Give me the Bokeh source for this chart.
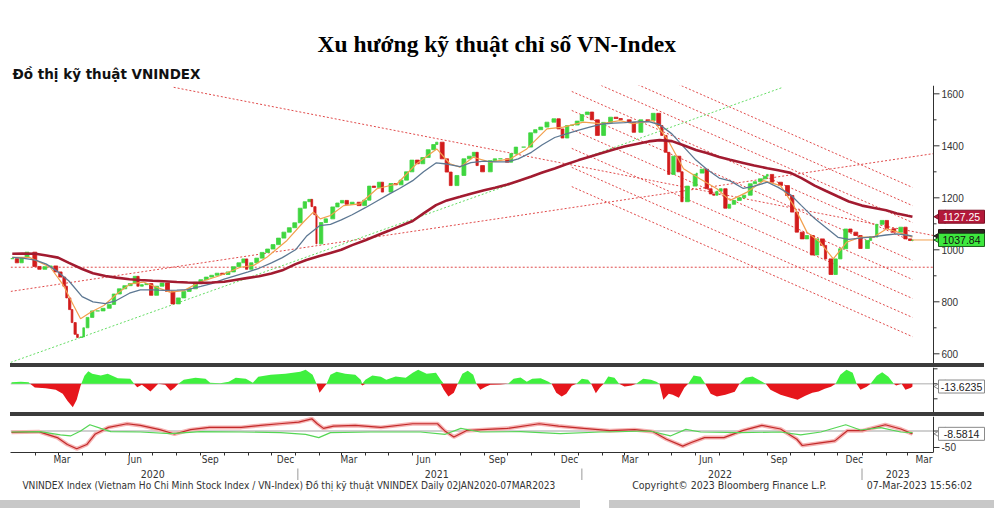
import numpy as np
import pandas as pd
from bokeh.plotting import figure
from bokeh.layouts import column, row
from bokeh.models import Range1d, FixedTicker, Title, ColumnDataSource, Div, Spacer
from bokeh.core.properties import value
from bokeh.embed import file_html
from bokeh.resources import INLINE

# ---------------- data ----------------
price_dates = [
    "2020-01-02", "2020-01-08", "2020-01-14", "2020-01-21", "2020-01-31",
    "2020-02-06", "2020-02-13", "2020-02-20", "2020-02-27",
    "2020-03-04", "2020-03-09", "2020-03-12", "2020-03-16", "2020-03-19", "2020-03-23", "2020-03-26", "2020-03-31",
    "2020-04-03", "2020-04-08", "2020-04-14", "2020-04-21", "2020-04-28",
    "2020-05-06", "2020-05-12", "2020-05-19", "2020-05-26",
    "2020-06-02", "2020-06-08", "2020-06-12", "2020-06-17", "2020-06-23", "2020-06-29",
    "2020-07-06", "2020-07-13", "2020-07-20", "2020-07-27",
    "2020-08-03", "2020-08-10", "2020-08-17", "2020-08-25",
    "2020-09-01", "2020-09-08", "2020-09-15", "2020-09-22", "2020-09-29",
    "2020-10-06", "2020-10-13", "2020-10-20", "2020-10-26", "2020-10-30",
    "2020-11-05", "2020-11-12", "2020-11-19", "2020-11-26",
    "2020-12-03", "2020-12-10", "2020-12-17", "2020-12-24", "2020-12-31",
    "2021-01-07", "2021-01-13", "2021-01-19", "2021-01-22", "2021-01-26", "2021-01-28",
    "2021-02-03", "2021-02-09", "2021-02-18", "2021-02-24",
    "2021-03-02", "2021-03-08", "2021-03-15", "2021-03-24", "2021-03-31",
    "2021-04-06", "2021-04-12", "2021-04-19", "2021-04-23",
    "2021-05-04", "2021-05-10", "2021-05-17", "2021-05-24", "2021-05-31",
    "2021-06-07", "2021-06-14", "2021-06-21", "2021-06-28",
    "2021-07-02", "2021-07-09", "2021-07-15", "2021-07-20", "2021-07-28",
    "2021-08-06", "2021-08-13", "2021-08-19", "2021-08-23", "2021-08-30",
    "2021-09-09", "2021-09-15", "2021-09-22",
    "2021-10-01", "2021-10-06", "2021-10-12", "2021-10-22", "2021-10-31",
    "2021-11-06", "2021-11-13", "2021-11-21", "2021-11-30",
    "2021-12-06", "2021-12-11", "2021-12-17", "2021-12-23", "2021-12-30",
    "2022-01-05", "2022-01-12", "2022-01-18", "2022-01-25",
    "2022-02-02", "2022-02-11", "2022-02-18", "2022-02-24",
    "2022-03-07", "2022-03-13", "2022-03-22", "2022-03-31",
    "2022-04-07", "2022-04-14", "2022-04-18", "2022-04-23", "2022-04-27",
    "2022-05-03", "2022-05-10", "2022-05-14", "2022-05-21", "2022-05-31",
    "2022-06-02", "2022-06-09", "2022-06-15", "2022-06-20", "2022-06-24", "2022-06-28",
    "2022-07-03", "2022-07-09", "2022-07-14", "2022-07-20", "2022-07-27",
    "2022-08-02", "2022-08-10", "2022-08-16", "2022-08-23", "2022-08-29",
    "2022-09-01", "2022-09-07", "2022-09-18", "2022-09-27",
    "2022-10-03", "2022-10-09", "2022-10-16", "2022-10-22", "2022-10-29",
    "2022-11-04", "2022-11-11", "2022-11-15", "2022-11-22", "2022-11-28",
    "2022-12-04", "2022-12-11", "2022-12-17", "2022-12-24", "2022-12-30",
    "2023-01-08", "2023-01-12", "2023-01-16", "2023-01-20", "2023-01-27",
    "2023-02-02", "2023-02-11", "2023-02-20", "2023-02-26",
    "2023-03-04", "2023-03-07",
]
price_close = [
    966, 950, 970, 991, 936,
    925, 935, 938, 915,
    895, 860, 815, 770, 720, 675, 663, 665,
    700, 740, 765, 765, 775,
    790, 830, 850, 862,
    870, 898, 860, 866, 870, 825,
    860, 872, 840, 792,
    815, 840, 850, 875,
    885, 895, 902, 910, 905,
    915, 935, 950, 965, 925,
    950, 968, 990, 1003,
    1020, 1045, 1068, 1085, 1104,
    1160, 1185, 1194, 1166, 1135, 1023,
    1105, 1119, 1165, 1180,
    1190, 1175, 1183, 1170, 1191,
    1245, 1240, 1260, 1222,
    1255, 1250, 1268, 1300, 1345,
    1331, 1355, 1385, 1405,
    1414, 1350, 1299, 1247, 1286,
    1350, 1360, 1375, 1324, 1300,
    1343, 1350, 1350,
    1337, 1370, 1395, 1395, 1450,
    1462, 1472, 1491, 1504,
    1465, 1430, 1478, 1480, 1495,
    1520, 1530, 1500, 1440,
    1490, 1510, 1505, 1500,
    1490, 1452, 1500, 1497,
    1525, 1478, 1440, 1375, 1290,
    1360, 1300, 1185, 1245, 1290,
    1295, 1310, 1235, 1215, 1210, 1225,
    1235, 1160, 1175, 1190, 1200,
    1210, 1254, 1262, 1273, 1283,
    1290, 1260, 1247, 1209,
    1145, 1068, 1042, 1055, 980,
    1042, 1017, 965, 905, 965,
    1004, 1080, 1068, 1055, 1005,
    1036, 1050, 1049, 1098, 1113,
    1081, 1068, 1087, 1042,
    1036, 1037.84,
]

ma_dates = [
    "2020-01-02", "2020-01-15", "2020-02-01", "2020-02-15", "2020-03-01", "2020-03-15",
    "2020-04-01", "2020-04-15", "2020-05-01", "2020-05-15", "2020-06-01", "2020-06-15",
    "2020-07-01", "2020-07-15", "2020-08-01", "2020-08-15", "2020-09-01", "2020-09-15",
    "2020-10-01", "2020-10-15", "2020-11-01", "2020-11-15", "2020-12-01", "2020-12-15",
    "2021-01-01", "2021-01-15", "2021-02-01", "2021-02-15", "2021-03-01", "2021-03-15",
    "2021-04-01", "2021-04-15", "2021-05-01", "2021-05-15", "2021-06-01", "2021-06-15",
    "2021-07-01", "2021-07-15", "2021-08-01", "2021-08-15", "2021-09-01", "2021-09-15",
    "2021-10-01", "2021-10-15", "2021-11-01", "2021-11-15", "2021-12-01", "2021-12-15",
    "2022-01-01", "2022-01-15", "2022-02-01", "2022-02-15", "2022-03-01", "2022-03-15",
    "2022-04-01", "2022-04-15", "2022-05-01", "2022-05-15", "2022-06-01", "2022-06-15",
    "2022-07-01", "2022-07-15", "2022-08-01", "2022-08-15", "2022-09-01", "2022-09-15",
    "2022-10-01", "2022-10-15", "2022-11-01", "2022-11-15", "2022-12-01", "2022-12-15",
    "2023-01-01", "2023-01-15", "2023-02-01", "2023-02-15", "2023-03-01", "2023-03-07",
]
ma200 = [
    985, 986, 985, 978, 970, 950, 926, 910, 899, 893, 887, 884,
    881, 879, 876, 874, 873, 874, 877, 884, 892, 898, 909, 921,
    945, 961, 976, 988, 1000, 1018, 1037, 1054, 1073, 1090, 1111, 1140,
    1172, 1190, 1204, 1216, 1229, 1239, 1251, 1265, 1282, 1297, 1313, 1328,
    1345, 1358, 1373, 1386, 1397, 1406, 1417, 1422, 1418, 1403, 1384, 1372,
    1357, 1346, 1334, 1324, 1314, 1306, 1296, 1276, 1247, 1227, 1205, 1186,
    1170, 1162, 1152, 1140, 1131, 1127.25,
]
ma50 = [
    971, 968, 960, 945, 915, 880, 820, 800, 793, 805, 833, 846,
    846, 844, 845, 847, 859, 870, 887, 900, 915, 929, 950, 970,
    1000, 1052, 1093, 1098, 1115, 1135, 1162, 1186, 1213, 1236, 1266, 1300,
    1334, 1330, 1320, 1335, 1341, 1338, 1338, 1350, 1375, 1404, 1432, 1445,
    1460, 1472, 1484, 1487, 1489, 1492, 1493, 1482, 1446, 1400, 1345, 1310,
    1276, 1265, 1236, 1245, 1260, 1240, 1212, 1170, 1120, 1087, 1048, 1040,
    1046, 1050, 1057, 1061, 1056, 1053,
]
ma20_dates = [
    "2020-01-02", "2020-01-24", "2020-02-20", "2020-03-08", "2020-03-21", "2020-03-30",
    "2020-04-12", "2020-04-29", "2020-05-16", "2020-06-02", "2020-06-19", "2020-07-06",
    "2020-07-23", "2020-08-10", "2020-08-31", "2020-09-26", "2020-10-22", "2020-11-08",
    "2020-11-25", "2020-12-21", "2021-01-11", "2021-01-24", "2021-02-02", "2021-02-15",
    "2021-03-04", "2021-03-25", "2021-04-16", "2021-05-12", "2021-06-06", "2021-07-02",
    "2021-07-19", "2021-08-01", "2021-08-18", "2021-09-09", "2021-10-05", "2021-10-26",
    "2021-11-21", "2021-12-12", "2022-01-07", "2022-01-29", "2022-02-23", "2022-03-12",
    "2022-04-07", "2022-04-25", "2022-05-16", "2022-06-06", "2022-06-28", "2022-07-15",
    "2022-08-06", "2022-08-27", "2022-09-18", "2022-10-05", "2022-10-22", "2022-11-08",
    "2022-11-25", "2022-12-12", "2022-12-30", "2023-01-16", "2023-02-02", "2023-02-22",
    "2023-03-07",
]
ma20 = [
    971, 971, 933, 863, 786, 735,
    760, 786, 831, 869, 876, 856,
    837, 843, 876, 901, 933, 940,
    971, 1036, 1106, 1145, 1119, 1132,
    1170, 1177, 1235, 1254, 1331, 1388,
    1331, 1318, 1356, 1337, 1350, 1388,
    1465, 1472, 1491, 1485, 1497, 1485,
    1497, 1427, 1312, 1273, 1235, 1190,
    1222, 1266, 1247, 1170, 1068, 1029,
    965, 1029, 1049, 1049, 1081, 1062,
    1049,
]

# dotted trend lines (start date, start value, end date, end value)
red_line_x0 = ["2020-07-28", "2019-12-31", "2019-12-31"]
red_line_y0 = [1625, 840, 933]
red_line_x1 = ["2023-04-03", "2023-04-03", "2023-04-03"]
red_line_y1 = [1055, 1370, 933]
channel_start = "2021-12-23"
channel_end = "2023-03-07"
channel_y0 = [1817, 1747, 1682, 1609, 1536, 1463, 1390, 1317, 1243]
channel_y1 = [1240, 1170, 1105, 1032, 959, 886, 813, 740, 666]
green_line_x = ["2019-12-31", "2022-09-21"]
green_line_y = [567, 1625]

# lower panel 1: histogram (x = days since 2020-01-01)
hist_day = [
    0, 12, 22, 24, 30, 44, 57, 66, 72, 79, 84, 89, 90, 94, 99, 104, 115, 124, 137, 153,
    158, 162, 168, 173, 179, 184, 189, 198, 205, 210, 215, 222, 237, 250, 256, 269, 280, 289, 302, 311,
    318, 334, 353, 372, 379, 388, 393, 397, 402, 406, 411, 419, 430, 443, 450, 452, 456, 465, 476, 483,
    495, 508, 517, 524, 535, 547, 553, 557, 563, 570, 575, 581, 588, 595, 599, 604, 611, 617, 630, 640,
    647, 656, 664, 671, 682, 692, 696, 702, 709, 715, 722, 728, 735, 743, 747, 753, 758, 763, 769, 777,
    783, 790, 799, 805, 814, 824, 831, 835, 840, 847, 852, 860, 867, 872, 879, 888, 894, 901, 909, 920,
    932, 938, 946, 955, 965, 972, 978, 991, 1004, 1013, 1023, 1032, 1040, 1048, 1056, 1062, 1068, 1076, 1084, 1089,
    1094, 1102, 1107, 1115, 1122, 1130, 1137, 1140, 1147, 1152, 1159, 1161,
]
hist_val = [
    8, 10, 8, 0, -18, -22, -30, -50, -85, -117, -80, -10, 0, 40, 63, 50, 42, 50, 28, 25,
    0, -17, -5, -20, -38, -20, 0, -5, -35, -20, 0, 20, 30, 25, 5, 3, 10, 30, 25, 5,
    35, 45, 50, 60, 70, 45, 0, -45, -20, 0, 45, 60, 50, 45, 20, -8, 20, 42, 35, 20,
    37, 30, 55, 70, 50, 55, 20, -30, -63, -45, 0, 50, 65, 45, 0, -30, -15, -5, -3, 0,
    25, 32, 10, 25, 28, 10, 0, -45, -63, -50, -10, 0, 25, 20, 0, -47, -20, 0, 37, 30,
    0, -13, -8, 0, 25, 20, 10, 0, -80, -50, -55, -70, -20, 0, 42, 35, 0, -50, -63, -55,
    -40, 0, 30, 37, 15, 0, -30, -55, -70, -80, -60, -45, -38, -25, -15, 0, 45, 70, 55, 0,
    -30, -15, 0, 40, 58, 35, 0, -8, 0, -30, -20, -13.6235,
]

# lower panel 2: two oscillator lines (x = days since 2020-01-01)
osc_red_day = [0, 35, 59, 72, 84, 97, 108, 125, 149, 166, 191, 210, 231, 255, 296, 321, 345, 370, 387, 394,
               402, 415, 443, 476, 517, 549, 558, 570, 586, 607, 639, 680, 705, 737, 771, 803, 827, 844, 865, 876,
               893, 918, 942, 967, 991, 1012, 1019, 1040, 1061, 1077, 1097, 1126, 1146, 1161]
osc_red_val = [-4, -2, -20, -41, -54, -41, -9, 11, 22, 17, 4, -9, 4, 11, 11, 17, 22, 27, 37, 22,
               8, 15, 17, 11, 22, 22, 1, -18, 1, 4, 8, 22, 15, 8, 1, 4, -2, -25, -46, -35,
               -20, -20, 1, 17, 6, -25, -44, -37, -30, 1, 1, 19, 6, -8.5814]
osc_green_day = [0, 37, 63, 76, 89, 101, 115, 128, 166, 205, 244, 295, 347, 379, 396, 411, 463, 527, 559, 579,
                 604, 656, 707, 759, 823, 849, 869, 888, 939, 991, 1017, 1043, 1075, 1094, 1120, 1146, 1161]
osc_green_val = [-3, -2, -12, -15, 0, 19, 8, -2, -3, -8, -2, -3, -5, -10, -20, -5, -3, -3, -10, 8,
                 -3, -2, -8, -3, 0, -15, 5, -3, -5, -3, -12, -3, 19, 3, 10, -3, -5]

price_ticks = [600, 800, 1000, 1200, 1400, 1600]
price_minor = [700, 900, 1100, 1300, 1500]
hist_ticks = [-75, 0, 75]
osc_ticks = [-50, 0]
osc_tick_labels = ["-50", ""]
month_label_dates = ["2020-03-06", "2020-06-08", "2020-09-13", "2020-12-19",
                     "2021-03-11", "2021-06-15", "2021-09-18", "2021-12-20",
                     "2022-03-08", "2022-06-14", "2022-09-16", "2022-12-22", "2023-03-22"]
month_labels = ["Mar", "Jun", "Sep", "Dec", "Mar", "Jun", "Sep", "Dec",
                "Mar", "Jun", "Sep", "Dec", "Mar"]
year_label_dates = ["2020-07-01", "2021-07-02", "2022-07-02", "2023-02-16"]
year_labels = ["2020", "2021", "2022", "2023"]
year_bounds = ["2021-01-04", "2022-01-05", "2023-01-01"]
footer_left = "VNINDEX Index (Vietnam Ho Chi Minh Stock Index / VN-Index) Đồ thị kỹ thuật VNINDEX  Daily 02JAN2020-07MAR2023"
footer_right = ["Copyright© 2023 Bloomberg Finance L.P.", "07-Mar-2023 15:56:02"]

# ---------------- layout constants ----------------
BASE = pd.Timestamp("2020-01-01")


def to_day(dates):
    return np.array([(pd.Timestamp(d) - BASE).days for d in dates], dtype=float)


W = 994
LEFT = 10                 # frame left edge (px)
PXD = 0.776               # pixels per calendar day
DAY0 = -1.3               # day at the frame's left edge
AX = DAY0 + 923 / PXD     # day where the right-hand value axis sits (x = 933 px)
xr = Range1d(DAY0, DAY0 + (W - LEFT) / PXD)


def px2day(px):
    return DAY0 + (px - LEFT) / PXD


NUM_FONT = "Liberation Sans"
NARROW = "DejaVu Sans Condensed"
AXC = "#303030"
UP = "#3fd63f"
DOWN = "#d21c1c"


def panel(h, yr, top=0, bottom=0, xloc=None):
    p = figure(width=W, height=h, x_range=xr, y_range=yr, output_backend="svg",
               toolbar_location=None, x_axis_location=xloc, y_axis_location=None,
               min_border_left=LEFT, min_border_right=0, min_border_top=top,
               min_border_bottom=bottom, outline_line_color=None,
               background_fill_color="white", border_fill_color="white")
    p.grid.visible = False
    return p


def value_axis(p, ticks, labels=None, minor=None, major_len=6, minor_len=3):
    """Right-hand value scale drawn at x = 933 px through the panel's y scale."""
    p.line(x=[AX, AX], y=[p.y_range.start, p.y_range.end], line_color=AXC, line_width=1)
    n = len(ticks)
    p.segment(x0=[AX] * n, x1=[AX + major_len / PXD] * n, y0=ticks, y1=ticks,
              line_color=AXC, line_width=1)
    if minor:
        m = len(minor)
        p.segment(x0=[AX] * m, x1=[AX + minor_len / PXD] * m, y0=minor, y1=minor,
                  line_color=AXC, line_width=1)
    if labels:
        p.text(x=[px2day(941)] * n, y=ticks, text=labels, text_align="left",
               text_baseline="middle", text_font=value(NUM_FONT),
               text_font_size="10px", text_color="#333333")


def value_box(p, y, text, fill, tcolor, border):
    p.scatter(x=[px2day(941)], y=[y], marker="triangle", size=13, angle=np.pi / 2,
              fill_color=fill, line_color=border, line_width=1)
    p.rect(x=[px2day(961)], y=[y], width=[46], height=[13], width_units="screen",
           height_units="screen", fill_color=fill, line_color=border, line_width=1)
    p.text(x=[px2day(961)], y=[y], text=[text], text_align="center", text_baseline="middle",
           text_font=value(NUM_FONT), text_font_size="10.5px", text_color=tcolor)


# ---------------- main price panel ----------------
pm = panel(363, Range1d(562.7, 1632), top=85)
pm.add_layout(Title(text="Đồ thị kỹ thuật VNINDEX", align="left", offset=2,
                    text_font="DejaVu Sans", text_font_size="13.5px", text_font_style="bold",
                    text_color="#111111", standoff=7), "above")
pm.add_layout(Title(text="Xu hướng kỹ thuật chỉ số VN-Index", align="left", offset=307,
                    text_font="Liberation Serif", text_font_size="23.5px", text_font_style="bold",
                    text_color="#000000", standoff=8), "above")

pm.segment(x0=to_day(red_line_x0), y0=red_line_y0, x1=to_day(red_line_x1), y1=red_line_y1,
           line_color="#e04a4a", line_width=1, line_dash="2 2")
ch_n = len(channel_y0)
pm.segment(x0=to_day([channel_start] * ch_n), y0=channel_y0,
           x1=to_day([channel_end] * ch_n), y1=channel_y1,
           line_color="#e04a4a", line_width=1, line_dash="2 2")
pm.line(to_day(green_line_x), green_line_y, line_color="#66dd66", line_width=1, line_dash="2 2")

px = to_day(price_dates)
pc = np.array(price_close, dtype=float)
po_ = np.r_[pc[0], pc[:-1]]
gap = np.r_[px[1] - px[0], np.diff(px)]
cw = np.minimum(gap, 7) * 0.72
ccol = np.where(pc >= po_, UP, DOWN).tolist()
csrc = ColumnDataSource(dict(x=px, w=cw, top=np.maximum(po_, pc), bottom=np.minimum(po_, pc), c=ccol))
pm.vbar(x="x", width="w", top="top", bottom="bottom", fill_color="c", line_color="c",
        line_width=0.8, source=csrc)

mx = to_day(ma_dates)
pm.line(to_day(ma20_dates), ma20, line_color="#f2a04e", line_width=1.2)
pm.line(mx, ma50, line_color="#5d7893", line_width=1.3)
pm.line(mx, ma200, line_color="#a21b30", line_width=2.6)
pm.line(x=[px[-1], AX], y=[pc[-1], pc[-1]], line_color="#f2a04e", line_width=1)

value_axis(pm, price_ticks, [str(t) for t in price_ticks], price_minor)
value_box(pm, ma200[-1], f"{ma200[-1]:.2f}", "#b3193a", "white", "#7d1025")
value_box(pm, ma50[-1], "", "#2e2822", "#2e2822", "#1a1612")
value_box(pm, pc[-1], f"{pc[-1]:.2f}", "#3ee83e", "#111111", "#1e5e1e")


def separator():
    return row(Spacer(width=LEFT, height=4, margin=0),
               Div(text="", width=974, height=4, margin=0,
                   styles={"background-color": "#3c3c3c"}),
               Spacer(width=W - LEFT - 974, height=4, margin=0), spacing=0)


# ---------------- histogram panel ----------------
ph = panel(45, Range1d(-143.5, 81.5))
hd = np.array(hist_day, dtype=float)
hv = np.array(hist_val, dtype=float)
ph.line(x=[DAY0, AX], y=[0, 0], line_color="#c8c8c8", line_width=1.5)
ph.varea(x=hd, y1=np.zeros_like(hv), y2=np.maximum(hv, 0), fill_color="#3ff03f")
ph.varea(x=hd, y1=np.minimum(hv, 0), y2=np.zeros_like(hv), fill_color="#e6161c")
value_axis(ph, hist_ticks, None, None, major_len=4)
value_box(ph, hist_val[-1], f"{hist_val[-1]:.4f}", "white", "#222222", "#8a8a8a")

# ---------------- oscillator panel with month axis ----------------
po = panel(51, Range1d(-65.2, 44), bottom=15, xloc="below")
po.line(x=[DAY0, AX], y=[0, 0], line_color="#d0d0d0", line_width=2)
po.line(osc_red_day, osc_red_val, line_color="#f6b4b4", line_width=4)
po.line(osc_red_day, osc_red_val, line_color="#c22a2a", line_width=1.2)
po.line(osc_green_day, osc_green_val, line_color="#55d655", line_width=1.2)
value_axis(po, osc_ticks, osc_tick_labels, None)
value_box(po, osc_red_val[-1], f"{osc_red_val[-1]:.4f}", "white", "#222222", "#8a8a8a")

month_starts = to_day([d.strftime("%Y-%m-%d") for d in pd.date_range("2020-02-01", "2023-03-01", freq="MS")])
mld = [int(v) for v in to_day(month_label_dates)]
xa = po.xaxis[0]
xa.bounds = (DAY0, AX)
xa.ticker = FixedTicker(ticks=mld, minor_ticks=list(month_starts))
xa.major_label_overrides = {d: t for d, t in zip(mld, month_labels)}
xa.axis_line_color = AXC
xa.major_tick_out = 0
xa.major_tick_in = 0
xa.minor_tick_out = 3
xa.minor_tick_in = 0
xa.minor_tick_line_color = AXC
xa.major_label_standoff = -2
xa.axis_label_standoff = 0
xa.major_label_text_font = NARROW
xa.major_label_text_font_size = "10px"
xa.major_label_text_color = "#333333"

# ---------------- year row ----------------
py = figure(width=W, height=13, x_range=xr, y_range=Range1d(0, 13), output_backend="svg",
            toolbar_location=None, x_axis_location=None, y_axis_location=None,
            min_border_left=LEFT, min_border_right=0, min_border_top=0, min_border_bottom=0,
            outline_line_color=None, background_fill_color="white", border_fill_color="white")
py.grid.visible = False
yb = to_day(year_bounds)
py.segment(x0=yb, x1=yb, y0=[0] * len(yb), y1=[12] * len(yb), line_color="#9a9a9a", line_width=1)
py.text(x=to_day(year_label_dates), y=[7] * len(year_labels), text=year_labels,
        text_align="center", text_baseline="middle", text_font=value(NARROW),
        text_font_size="10.5px", text_color="#333333")

# ---------------- footer line ----------------
pf = figure(width=W, height=20, x_range=Range1d(0, W), y_range=Range1d(0, 20),
            output_backend="svg", toolbar_location=None, x_axis_location=None,
            y_axis_location=None, min_border=0, outline_line_color=None,
            background_fill_color="white", border_fill_color="white")
pf.grid.visible = False
pf.text(x=[12], y=[15.5], text=[footer_left], text_align="left",
        text_baseline="middle", text_font=value(NARROW), text_font_size="10.1px",
        text_color="#333333")
pf.text(x=[628, 865], y=[15.5, 15.5], text=footer_right, text_align="left",
        text_baseline="middle", text_font=value(NARROW), text_font_size="10.5px",
        text_color="#333333")

bars = row(Div(text="", width=580, height=8, margin=0, styles={"background-color": "#c8c8c8"}),
           Spacer(width=29, height=8, margin=0),
           Div(text="", width=W - 609, height=8, margin=0, styles={"background-color": "#c8c8c8"}),
           spacing=0)

layout = column(pm, separator(), ph, separator(), po, py, pf, bars, spacing=0)
open("out.html", "w").write(file_html(layout, INLINE))
